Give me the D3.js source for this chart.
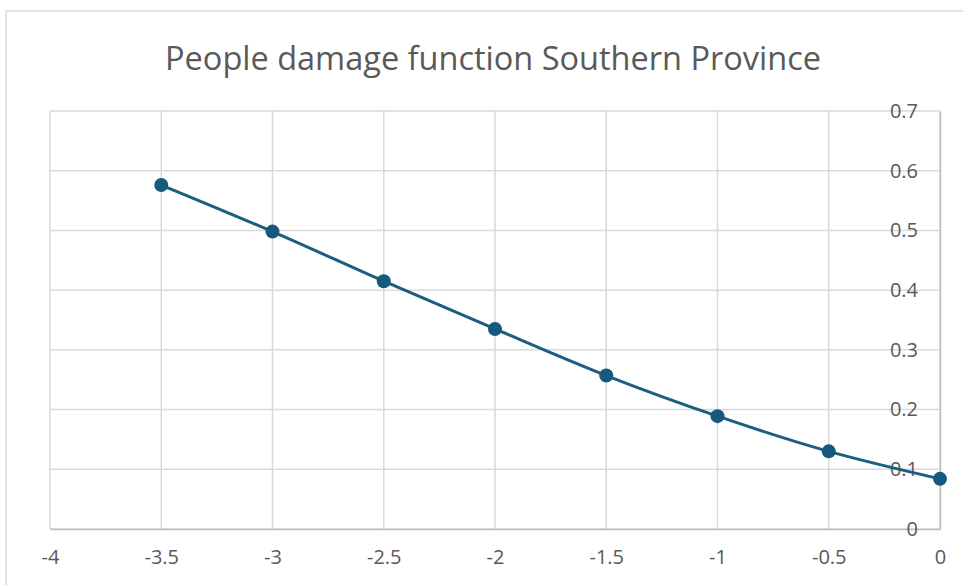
<!DOCTYPE html>
<html>
<head>
<meta charset="utf-8">
<script src="https://cdn.jsdelivr.net/npm/d3@7"></script>
<style>
  body { margin: 0; background: #fff; }
  svg { display: block; }
</style>
</head>
<body>
<script>
var w = 963;
var h = 585;

// data
var xValues = [-3.5, -3, -2.5, -2, -1.5, -1, -0.5, 0];
var yValues = [0.576, 0.498, 0.415, 0.335, 0.257, 0.189, 0.13, 0.084];
var xTicks = [-4, -3.5, -3, -2.5, -2, -1.5, -1, -0.5, 0];
var yTicks = [0, 0.1, 0.2, 0.3, 0.4, 0.5, 0.6, 0.7];

var margin = { left: 50, right: 23, top: 111, bottom: 56 };

var svg = d3.select('body')
  .append('svg')
  .attr('width', w)
  .attr('height', h);

svg.append('rect')
  .attr('width', w)
  .attr('height', h)
  .attr('fill', '#fff');

// chart frame
svg.append('rect')
  .attr('x', 6)
  .attr('y', 11)
  .attr('width', w + 10)
  .attr('height', h + 10)
  .attr('fill', 'none')
  .attr('stroke', '#d9d9d9')
  .attr('stroke-width', 1.5);

var x = d3.scaleLinear()
  .domain([-4, 0])
  .range([margin.left, w - margin.right]);

var y = d3.scaleLinear()
  .domain([0, 0.7])
  .range([h - margin.bottom, margin.top]);

svg.append('text')
  .attr('x', 493)
  .attr('y', 70)
  .attr('text-anchor', 'middle')
  .attr('font-family', 'Open Sans, sans-serif')
  .attr('font-size', 32.5)
  .attr('fill', '#595959')
  .text('People damage function Southern Province');

var grid = svg.append('g');

grid.selectAll('.vgrid')
  .data(xTicks)
  .enter()
  .append('line')
  .attr('x1', function (d) { return x(d); })
  .attr('x2', function (d) { return x(d); })
  .attr('y1', y(0))
  .attr('y2', y(0.7))
  .attr('stroke', '#d9d9d9')
  .attr('stroke-width', 1.5);

grid.selectAll('.hgrid')
  .data(yTicks)
  .enter()
  .append('line')
  .attr('x1', x(-4))
  .attr('x2', x(0))
  .attr('y1', function (d) { return y(d); })
  .attr('y2', function (d) { return y(d); })
  .attr('stroke', '#d9d9d9')
  .attr('stroke-width', 1.5);

// x axis labels
var xAxis = d3.axisBottom(x)
  .tickValues(xTicks)
  .tickSize(0)
  .tickPadding(21)
  .tickFormat(function (d) { return d; });

var gx = svg.append('g')
  .attr('transform', 'translate(0,' + y(0) + ')')
  .call(xAxis);
gx.select('.domain').attr('stroke', '#bfbfbf').attr('stroke-width', 1.5);
gx.selectAll('text')
  .attr('font-family', 'Open Sans, sans-serif')
  .attr('font-size', 20)
  .attr('fill', '#595959');

// y axis labels, placed just left of the x = 0 line
var yAxis = d3.axisLeft(y)
  .tickValues(yTicks)
  .tickSize(0)
  .tickPadding(22)
  .tickFormat(function (d) { return d; });

var gy = svg.append('g')
  .attr('transform', 'translate(' + x(0) + ',0)')
  .call(yAxis);
gy.select('.domain').attr('stroke', '#bfbfbf').attr('stroke-width', 1.5);
gy.selectAll('text')
  .attr('font-family', 'Open Sans, sans-serif')
  .attr('font-size', 20)
  .attr('fill', '#595959');

var points = xValues.map(function (d, i) { return [d, yValues[i]]; });

var line = d3.line()
  .x(function (d) { return x(d[0]); })
  .y(function (d) { return y(d[1]); })
  .curve(d3.curveCatmullRom.alpha(0.5));

svg.append('path')
  .datum(points)
  .attr('d', line)
  .attr('fill', 'none')
  .attr('stroke', '#1b5e80')
  .attr('stroke-width', 3);

svg.selectAll('circle')
  .data(points)
  .enter()
  .append('circle')
  .attr('cx', function (d) { return x(d[0]); })
  .attr('cy', function (d) { return y(d[1]); })
  .attr('r', 7)
  .attr('fill', '#155a7c');
</script>
</body>
</html>
